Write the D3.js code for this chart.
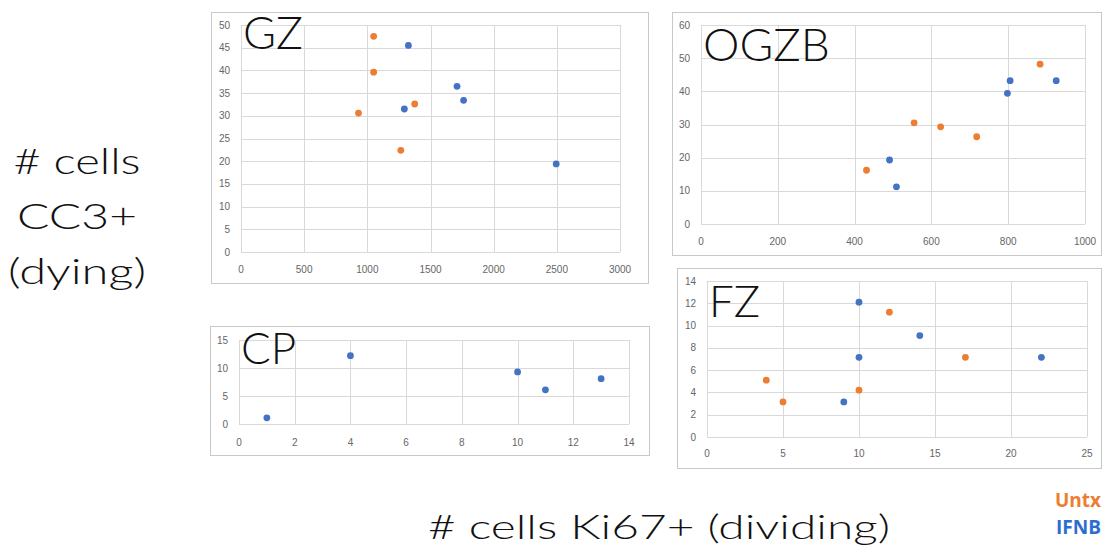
<!DOCTYPE html>
<html>
<head>
<meta charset="utf-8">
<style>
  body { margin: 0; background: #fff; }
  svg { display: block; }
  .tick-label { font: 10px "Liberation Sans", sans-serif; fill: #666; }
  .big { font-family: Lato, "Noto Sans", sans-serif; font-weight: 300; fill: #111; }
</style>
</head>
<body>
<div id="chart-area"></div>

<script src="https://d3js.org/d3.v7.min.js"></script>
<script>
    // GZ panel
    const gzUntxX = [1050, 1050, 930, 1375, 1265];
    const gzUntxY = [47.5, 39.6, 30.6, 32.6, 22.4];
    const gzIfnbX = [1325, 1293, 1710, 1762, 2495];
    const gzIfnbY = [45.5, 31.5, 36.5, 33.4, 19.4];

    // OGZB panel
    const ogzbUntxX = [431, 555, 624, 718, 883];
    const ogzbUntxY = [16.2, 30.5, 29.3, 26.3, 48.2];
    const ogzbIfnbX = [491, 509, 798, 805, 925];
    const ogzbIfnbY = [19.3, 11.2, 39.4, 43.2, 43.2];

    // CP panel (IFNB only)
    const cpIfnbX = [1, 4, 10, 11, 13];
    const cpIfnbY = [1.1, 12.2, 9.3, 6.1, 8.1];

    // FZ panel
    const fzUntxX = [12, 17, 3.9, 5, 10];
    const fzUntxY = [11.2, 7.15, 5.1, 3.15, 4.2];
    const fzIfnbX = [10, 14, 10, 22, 9];
    const fzIfnbY = [12.1, 9.1, 7.15, 7.15, 3.15];

    // axis ticks
    const gzXTicks = [0, 500, 1000, 1500, 2000, 2500, 3000];
    const gzYTicks = [0, 5, 10, 15, 20, 25, 30, 35, 40, 45, 50];
    const ogzbXTicks = [0, 200, 400, 600, 800, 1000];
    const ogzbYTicks = [0, 10, 20, 30, 40, 50, 60];
    const cpXTicks = [0, 2, 4, 6, 8, 10, 12, 14];
    const cpYTicks = [0, 5, 10, 15];
    const fzXTicks = [0, 5, 10, 15, 20, 25];
    const fzYTicks = [0, 2, 4, 6, 8, 10, 12, 14];

    const width = 1104;
    const height = 557;
    const orange = "#ed7d31";
    const blue = "#4472c4";

    const svg = d3.select("#chart-area")
        .append("svg")
            .attr("width", width)
            .attr("height", height);

    const zip = (xs, ys) => xs.map((x, i) => ({x: x, y: ys[i]}));

    const panels = [
        {title: "GZ", box: [211, 12, 648, 283], plot: [241, 25, 620, 252],
         xt: gzXTicks, yt: gzYTicks, titleSize: 45, titleY: 49, labGap: 17,
         series: [[zip(gzUntxX, gzUntxY), orange], [zip(gzIfnbX, gzIfnbY), blue]]},
        {title: "OGZB", box: [672, 12, 1101, 255], plot: [701, 25, 1085, 224],
         xt: ogzbXTicks, yt: ogzbYTicks, titleSize: 46, titleY: 61, labGap: 17,
         series: [[zip(ogzbUntxX, ogzbUntxY), orange], [zip(ogzbIfnbX, ogzbIfnbY), blue]]},
        {title: "CP", box: [210, 326, 649, 455], plot: [239, 340, 629, 424],
         xt: cpXTicks, yt: cpYTicks, titleSize: 44, titleY: 364, labGap: 18,
         series: [[zip(cpIfnbX, cpIfnbY), blue]]},
        {title: "FZ", box: [677, 268, 1101, 468], plot: [707, 281, 1087, 437],
         xt: fzXTicks, yt: fzYTicks, titleSize: 44, titleY: 317, labGap: 16,
         series: [[zip(fzUntxX, fzUntxY), orange], [zip(fzIfnbX, fzIfnbY), blue]]}
    ];

    panels.forEach(p => {
        const [bx0, by0, bx1, by1] = p.box;
        const [px0, py0, px1, py1] = p.plot;
        const g = svg.append("g");

        g.append("rect")
            .attr("x", bx0 + 0.5).attr("y", by0 + 0.5)
            .attr("width", bx1 - bx0).attr("height", by1 - by0)
            .attr("fill", "#fff")
            .attr("stroke", "#c8c8c8");

        const x = d3.scaleLinear().domain(d3.extent(p.xt)).range([px0, px1]);
        const y = d3.scaleLinear().domain(d3.extent(p.yt)).range([py1, py0]);

        // gridlines
        g.selectAll(".hg").data(p.yt).join("line")
            .attr("x1", px0).attr("x2", px1)
            .attr("y1", d => Math.round(y(d)) + 0.5).attr("y2", d => Math.round(y(d)) + 0.5)
            .attr("stroke", "#d9d9d9");
        g.selectAll(".vg").data(p.xt).join("line")
            .attr("class", "vg")
            .attr("y1", py0).attr("y2", py1)
            .attr("x1", d => Math.round(x(d)) + 0.5).attr("x2", d => Math.round(x(d)) + 0.5)
            .attr("stroke", "#d9d9d9");

        // tick labels
        g.selectAll(".yl").data(p.yt).join("text")
            .attr("class", "tick-label")
            .attr("x", px0 - 11).attr("y", d => y(d) + 3.5)
            .attr("text-anchor", "end")
            .text(d => d);
        g.selectAll(".xl").data(p.xt).join("text")
            .attr("class", "tick-label")
            .attr("x", d => x(d)).attr("y", py1 + p.labGap + 3.5)
            .attr("text-anchor", "middle")
            .text(d => d);

        p.series.forEach(([pts, col]) => {
            g.append("g").selectAll("circle").data(pts).join("circle")
                .attr("cx", d => x(d.x)).attr("cy", d => y(d.y))
                .attr("r", 3.4)
                .attr("fill", col);
        });

        g.append("text")
            .attr("class", "big")
            .attr("x", px0 + 2).attr("y", p.titleY)
            .attr("font-size", p.titleSize)
            .text(p.title);
    });

    // y label (three lines, stretched to the reference widths)
    const yLines = ["# cells", "CC3+", "(dying)"];
    const yLineWidths = [127, 120, 138];
    svg.append("g").selectAll("text").data(yLines).join("text")
        .attr("class", "big")
        .attr("x", (d, i) => 77 - yLineWidths[i] / 2)
        .attr("y", (d, i) => 174 + i * 55)
        .attr("font-size", 36)
        .attr("textLength", (d, i) => yLineWidths[i])
        .attr("lengthAdjust", "spacingAndGlyphs")
        .text(d => d);

    // x label
    svg.append("text")
        .attr("class", "big")
        .attr("x", 428).attr("y", 539)
        .attr("font-size", 34)
        .attr("textLength", 462)
        .attr("lengthAdjust", "spacingAndGlyphs")
        .text("# cells Ki67+ (dividing)");

    // legend
    const legendNames = ["Untx", "IFNB"];
    const legendColors = [orange, "#2e6dd0"];
    svg.append("g").selectAll("text").data(legendNames).join("text")
        .attr("x", 1101)
        .attr("y", (d, i) => 507 + i * 27)
        .attr("text-anchor", "end")
        .attr("font-family", "'Open Sans', sans-serif")
        .attr("font-weight", "bold")
        .attr("font-size", 19)
        .attr("fill", (d, i) => legendColors[i])
        .text(d => d);
</script>
</body>
</html>
